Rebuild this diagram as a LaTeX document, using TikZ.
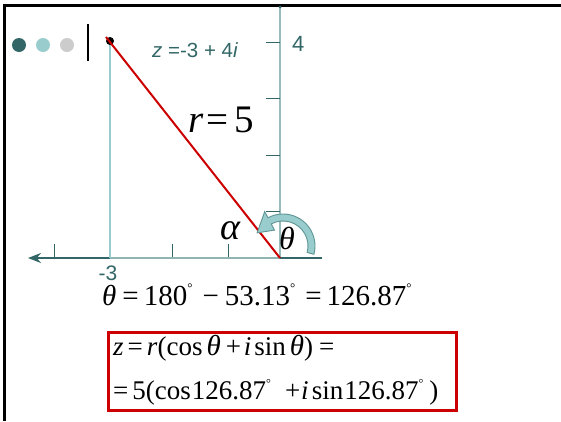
\documentclass[tikz,border=0pt]{standalone}
\usepackage{fontspec}
\setmainfont{Liberation Serif}
\newfontfamily\arialfont{Liberation Sans}
\usetikzlibrary{arrows.meta,calc}
\definecolor{darkteal}{HTML}{336666}
\definecolor{lightteal}{HTML}{99CCCC}
\definecolor{dotgray}{HTML}{CCCCCC}
\definecolor{axisgray}{HTML}{99BBBB}
\definecolor{projgray}{HTML}{8FB5B3}
\definecolor{redline}{HTML}{CC0000}
\definecolor{arcedge}{HTML}{5F9595}
\newcommand{\fsz}[1]{\fontsize{#1}{#1}\selectfont}
\newcommand{\dg}{\raisebox{0.42em}{\scalebox{0.45}{°}}}
\newcommand{\hs}[1]{\hspace{#1pt}}
\begin{document}
\begin{tikzpicture}[x=1pt,y=-1pt,
  lbl/.style={inner sep=0pt, anchor=base west},
  sanslbl/.style={lbl, font=\arialfont\fsz{20.5}, text=darkteal},
  serif/.style={lbl},
  tick/.style={darkteal, line width=1pt},
]
\useasboundingbox (0,0) rectangle (561,421);
\fill[white] (0,0) rectangle (561,421);
% frame
\draw[line width=3pt, black] (4.5,421) -- (4.5,5.5) -- (561,5.5);
% bullets
\fill[darkteal] (19,45) circle (7);
\fill[lightteal] (43,45) circle (7);
\fill[dotgray] (67,45) circle (7);
\draw[line width=2.5pt, black] (88,24) -- (88,61);
% coordinates
\coordinate (O) at (280,258);
\coordinate (Z) at (110,41);
\coordinate (Ytop) at (280,7);
\coordinate (Xleft) at (28,258);
\coordinate (Xright) at (322,258);
\coordinate (Zfoot) at (110,258);
% vertical axis
\draw[axisgray, line width=1.6pt] (O) -- (Ytop);
\fill[darkteal] (Ytop) circle (1.5);
\foreach \yy in {42,98,155,211} \draw[tick] (266,\yy) -- (280,\yy);
% horizontal axis
\draw[darkteal, line width=2.6pt, -{Stealth[length=13pt,width=10pt]}] (Xright) -- (Xleft);
\foreach \xx in {54,172,228} \draw[tick] (\xx,244) -- (\xx,258);
\draw[projgray, line width=2.6pt] (Zfoot) -- (O);
% projection
\draw[lightteal, line width=2pt] (Z) -- (Zfoot);
% point
\fill[black] (Z) circle (4);
% radius
\draw[redline, line width=2pt] ($(Z)+(-4,-4)$) -- (O);
% curved arrow
\begin{scope}[shift={(283,246)}, yscale=-1]
\filldraw[fill=lightteal, draw=arcedge, line width=0.9pt]
  (-15:32) -- (-15:25) arc[start angle=-15, end angle=118, radius=25]
  -- (118:18) -- (153:29) -- (118:39) -- (118:32)
  arc[start angle=118, end angle=-15, radius=32] -- cycle;
\end{scope}
% labels
\node[sanslbl] (zlab) at (152,57) {\textit{z} =-3 + 4\textit{i}};
\node[sanslbl, font=\arialfont\fsz{22}] (four) at (292,51) {4};
\node[sanslbl, font=\arialfont\fsz{21}, anchor=base] (mthree) at (108,280) {-3};
\node[serif, font=\fsz{39}] (rlab) at (188,132) {\textit{r}\hs{3}=\hs{6}5};
\node[serif, font=\fsz{38}] (alpha) at (220,239) {\textit{α}};
\node[serif, font=\fsz{32}] (theta) at (279,249) {\textit{θ}};
\node[serif, font=\fsz{29}] (eqtheta) at (102,305) {\textit{θ}\hs{6}=\hs{5}180\dg\hs{10}−\hs{6}53.13\dg\hs{10}=\hs{5}126.87\dg};
% box
\draw[redline, line width=3pt] (108,332) rectangle (456,410);
\node[serif, font=\fsz{27}] (eq1) at (113,355) {\textit{z}\hs{4}=\hs{4}\textit{r}(cos\hs{4}{\fsz{29}\textit{θ}}\hs{5}+\hs{3}\textit{i}\hs{3}sin\hs{4}{\fsz{29}\textit{θ}})\hs{6}=};
\node[serif, font=\fsz{27}] (eq2) at (113,399) {=\hs{4}5(cos\hs{1}126.87\dg\hs{14}+\hs{1}\textit{i}\hs{3}sin\hs{1}126.87\dg\hs{6})};
\end{tikzpicture}
\end{document}
